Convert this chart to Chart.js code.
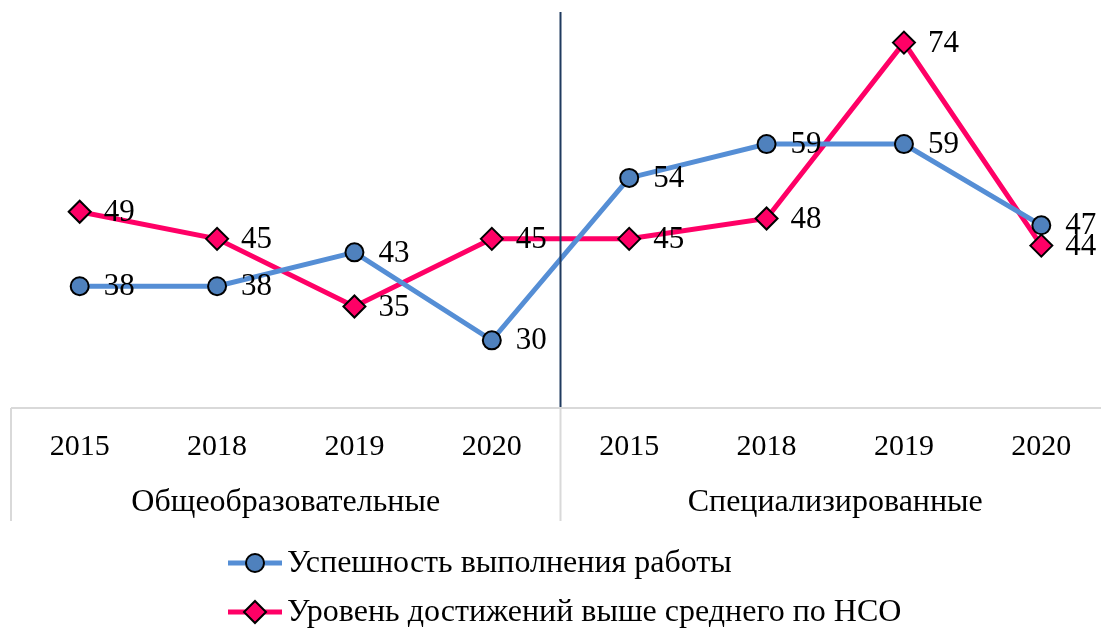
<!DOCTYPE html>
<html lang="ru">
<head>
    <meta charset="UTF-8">
    <title>Chart</title>
    <style>
        body {
            margin: 0;
            padding: 0;
            background: #fff;
            overflow: hidden;
        }
        #wrap {
            width: 1115px;
            height: 630px;
        }
    </style>
</head>
<body>
    <div id="wrap"><canvas id="chart" width="1115" height="630"></canvas></div>

    <script src="https://cdn.jsdelivr.net/npm/chart.js"></script>
    <script>
        const years = ['2015', '2018', '2019', '2020', '2015', '2018', '2019', '2020'];
        const groups = ['Общеобразовательные', 'Специализированные'];
        const success = [38, 38, 43, 30, 54, 59, 59, 47];
        const above = [49, 45, 35, 45, 45, 48, 74, 44];
        const seriesNames = ['Успешность выполнения работы', 'Уровень достижений выше среднего по НСО'];

        const blueLine = '#558ED5';
        const blueFill = '#4F81BD';
        const pink = '#FF0066';
        const font = '"Liberation Serif", "Times New Roman", serif';

        const decor = {
            id: 'decor',
            afterDatasetsDraw(chart) {
                const ctx = chart.ctx;
                const x = chart.scales.x;
                const area = chart.chartArea;

                ctx.save();
                // divider between the groups
                const mid = (x.getPixelForValue(3) + x.getPixelForValue(4)) / 2;
                ctx.strokeStyle = '#1F3A5F';
                ctx.lineWidth = 2;
                ctx.beginPath();
                ctx.moveTo(mid, 12);
                ctx.lineTo(mid, area.bottom);
                ctx.stroke();

                // axis box
                ctx.strokeStyle = '#D9D9D9';
                ctx.lineWidth = 2;
                ctx.beginPath();
                ctx.moveTo(area.left, area.bottom);
                ctx.lineTo(area.right, area.bottom);
                [area.left, mid, area.right].forEach(px => {
                    ctx.moveTo(px, area.bottom);
                    ctx.lineTo(px, area.bottom + 113);
                });
                ctx.stroke();

                // labels
                ctx.fillStyle = '#000';
                ctx.font = '30px ' + font;
                ctx.textAlign = 'center';
                ctx.textBaseline = 'middle';
                years.forEach((y, i) => {
                    ctx.fillText(y, x.getPixelForValue(i), area.bottom + 39);
                });
                ctx.font = '32px ' + font;
                ctx.fillText(groups[0], (area.left + mid) / 2, area.bottom + 95);
                ctx.fillText(groups[1], (mid + area.right) / 2, area.bottom + 95);

                // data labels
                ctx.font = '31px ' + font;
                ctx.textAlign = 'left';
                chart.data.datasets.forEach((ds, di) => {
                    const meta = chart.getDatasetMeta(di);
                    meta.data.forEach((pt, i) => {
                        ctx.fillText(String(ds.data[i]), pt.x + 24, pt.y + 1);
                    });
                });

                // legend
                ctx.font = '32px ' + font;
                const lx = 228, tx = 287;
                const rows = [563, 612];
                chart.data.datasets.forEach((ds, di) => {
                    const ly = rows[di];
                    ctx.strokeStyle = ds.borderColor;
                    ctx.lineWidth = 5;
                    ctx.beginPath();
                    ctx.moveTo(lx, ly);
                    ctx.lineTo(lx + 54, ly);
                    ctx.stroke();
                    ctx.fillStyle = ds.pointBackgroundColor;
                    ctx.strokeStyle = '#000';
                    ctx.lineWidth = 2;
                    ctx.beginPath();
                    if (di === 0) {
                        ctx.arc(lx + 27, ly, 9, 0, Math.PI * 2);
                    } else {
                        ctx.moveTo(lx + 27, ly - 11);
                        ctx.lineTo(lx + 38, ly);
                        ctx.lineTo(lx + 27, ly + 11);
                        ctx.lineTo(lx + 16, ly);
                        ctx.closePath();
                    }
                    ctx.fill();
                    ctx.stroke();
                    ctx.fillStyle = '#000';
                    ctx.fillText(seriesNames[di], tx, ly + 1);
                });
                ctx.restore();
            }
        };

        new Chart(document.getElementById('chart'), {
            type: 'line',
            data: {
                labels: years.map((y, i) => i),
                datasets: [
                    {
                        label: seriesNames[0],
                        data: success,
                        borderColor: blueLine,
                        borderWidth: 5,
                        pointStyle: 'circle',
                        pointRadius: 9,
                        pointBackgroundColor: blueFill,
                        pointBorderColor: '#000',
                        pointBorderWidth: 2,
                        tension: 0
                    },
                    {
                        label: seriesNames[1],
                        data: above,
                        borderColor: pink,
                        borderWidth: 5,
                        pointStyle: 'rectRot',
                        pointRadius: 11,
                        pointBackgroundColor: pink,
                        pointBorderColor: '#000',
                        pointBorderWidth: 2,
                        tension: 0
                    }
                ]
            },
            options: {
                responsive: false,
                animation: false,
                layout: { autoPadding: false, padding: { left: 11, right: 5, top: 2, bottom: 222 } },
                plugins: {
                    legend: { display: false },
                    tooltip: { enabled: false }
                },
                scales: {
                    x: { type: 'category', offset: true, display: false },
                    y: { min: 20, max: 80, display: false }
                }
            },
            plugins: [decor]
        });
    </script>
</body>
</html>
